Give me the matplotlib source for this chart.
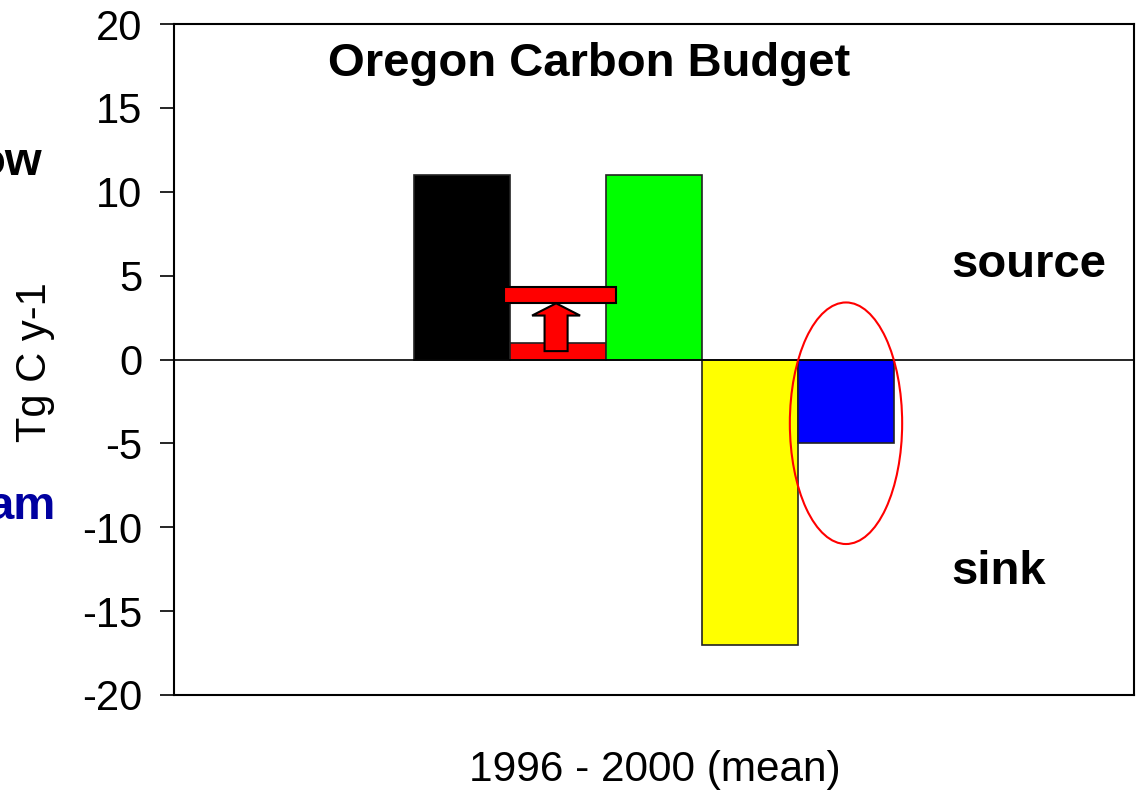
import matplotlib
matplotlib.use("Agg")
import matplotlib.pyplot as plt
from matplotlib.patches import Ellipse, Rectangle, Polygon

plt.rcParams['font.family'] = ['Liberation Sans', 'DejaVu Sans']

# Data
positions = [3, 4, 5, 6, 7]
values = [11, 1, 11, -17, -5]
colors = ['#000000', '#ff0000', '#00ff00', '#ffff00', '#0000ff']
floating_bar = (3.35, 4.3)      # red floating bar bottom / top (Tg C y-1)
arrow_from, arrow_to = 0.5, 3.35
yticks = [-20, -15, -10, -5, 0, 5, 10, 15, 20]

fig = plt.figure(figsize=(11.36, 7.91), dpi=100)
ax = fig.add_axes([174/1136, 1-695/791, 960/1136, 671/791])
ax.set_xlim(0, 10)
ax.set_ylim(-20, 20)

ax.bar(positions, values, width=1.0, color=colors, edgecolor='#222222', linewidth=1.2, zorder=2)

# floating red bar (wider)
ax.add_patch(Rectangle((3.44, floating_bar[0]), 1.16, floating_bar[1]-floating_bar[0],
                       facecolor='#ff0000', edgecolor='black', linewidth=1.5, zorder=3))
# up arrow
sx0, sx1 = 3.86, 4.10
hx0, hx1 = 3.73, 4.23
hb = 2.62
cx = 3.98
ax.add_patch(Polygon([(sx0, arrow_from), (sx1, arrow_from), (sx1, hb), (hx1, hb),
                      (cx, arrow_to), (hx0, hb), (sx0, hb)], closed=True,
                     facecolor='#ff0000', edgecolor='black', linewidth=1.5, zorder=4))

ax.axhline(0, color='black', linewidth=1.2, zorder=3)

ax.add_patch(Ellipse((7.0, -3.8), 1.17, 14.4, fill=False, edgecolor='#ff0000', linewidth=1.5, zorder=5))

ax.set_yticks(yticks)
ax.set_yticklabels([str(t) for t in yticks], fontsize=30)
ax.tick_params(axis='y', direction='out', length=10, width=1.2, pad=13)
ax.set_xticks([])
for s in ax.spines.values():
    s.set_linewidth(1.5)

ax.text(4.32, 16.9, 'Oregon Carbon Budget', fontsize=34, fontweight='bold', ha='center', va='baseline')
ax.text(8.1, 4.89, 'source', fontsize=34, fontweight='bold', ha='left', va='baseline')
ax.text(8.1, -13.41, 'sink', fontsize=34, fontweight='bold', ha='left', va='baseline')

fig.text(35/1136, 1-362/791, 'Tg C y-1', fontsize=30, rotation=90, ha='center', va='center')
fig.text(655/1136, 1-770/791, '1996 - 2000 (mean)', fontsize=30.5, ha='center', va='center')
fig.text(42/1136, 1-175/791, 'ow', fontsize=34, fontweight='bold', ha='right', va='baseline')
fig.text(56/1136, 1-519/791, 'am', fontsize=34, fontweight='bold', color='#0000a0', ha='right', va='baseline')

fig.savefig('out.png', dpi=100)
